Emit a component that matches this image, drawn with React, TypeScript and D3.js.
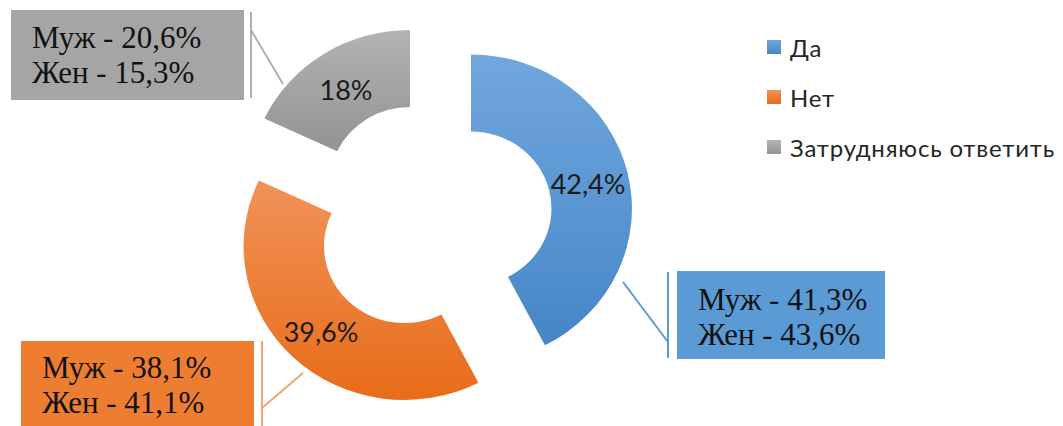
import React from 'react';
import * as d3 from 'd3';

const categories = ['Да', 'Нет', 'Затрудняюсь ответить'];
const values = [42.4, 39.6, 18];
const valueLabels = ['42,4%', '39,6%', '18%'];
const maleLabels = ['Муж - 41,3%', 'Муж - 38,1%', 'Муж - 20,6%'];
const femaleLabels = ['Жен - 43,6%', 'Жен - 41,1%', 'Жен - 15,3%'];

const W = 1063;
const H = 426;
const CX = 430;
const CY = 215;
const R_OUT = 154;
const R_IN = 77;
const XSTRETCH = 1.045;

// layout (per slice): explosion offsets, data label offsets, callout boxes
const sliceOffsets: [number, number][] = [[41, -6.5], [-25.5, 31], [-20, -31]];
const labelPos: [number, number][] = [[588, 183], [321, 331], [346, 89]];
const baseColors = ['#5b9bd5', '#ed7d31', '#a5a5a5'];
const gradTop = ['#71a7dd', '#f19258', '#b3b3b3'];
const gradBottom = ['#4586c7', '#e86c18', '#939393'];
const lineColors = ['#5b9bd5', '#f4a46f', '#b0b0b0'];
const boxes = [
  { x: 677, y: 271, w: 208, h: 88, vx: 668, vy1: 272, vy2: 358, lx1: 623, ly1: 282, lx2: 668, ly2: 342, base: 310 },
  { x: 21, y: 341, w: 233, h: 90, vx: 262, vy1: 341, vy2: 426, lx1: 303, ly1: 373, lx2: 262, ly2: 408, base: 378 },
  { x: 11, y: 10, w: 233, h: 90, vx: 251, vy1: 12, vy2: 98, lx1: 283, ly1: 84, lx2: 251, ly2: 30, base: 48 },
];

export default function App() {
  const pie = d3
    .pie<number>()
    .sort(null)
    .value((d) => d)
    .startAngle(0)
    .endAngle(2 * Math.PI);
  const arcs = pie(values);
  const arcGen = d3.arc<d3.PieArcDatum<number>>().innerRadius(R_IN).outerRadius(R_OUT);

  return (
    <svg
      width={W}
      height={H}
      viewBox={`0 0 ${W} ${H}`}
      style={{ position: 'absolute', left: 0, top: 0, background: '#fff' }}
    >
      <defs>
        {arcs.map((a, i) => (
          <linearGradient key={i} id={`g${i}`} x1="0" y1="0" x2="0" y2="1">
            <stop offset="0" stopColor={gradTop[i]} />
            <stop offset="1" stopColor={gradBottom[i]} />
          </linearGradient>
        ))}
      </defs>
      <rect x={0} y={0} width={W} height={H} fill="#fff" />
      {arcs.map((a, i) => (
        <g
          key={i}
          transform={`translate(${CX + sliceOffsets[i][0]},${CY + sliceOffsets[i][1]}) scale(${XSTRETCH},1)`}
        >
          <path d={arcGen(a) || ''} fill={`url(#g${i})`} />
        </g>
      ))}
      {arcs.map((a, i) => (
        <text
          key={i}
          x={labelPos[i][0]}
          y={labelPos[i][1]}
          textAnchor="middle"
          dominantBaseline="central"
          fontFamily="Lato, 'Noto Sans', sans-serif"
          fontSize={27}
          fill="#1a1a1a"
        >
          {valueLabels[i]}
        </text>
      ))}
      {boxes.map((b, i) => (
        <g key={i}>
          <line x1={b.vx} y1={b.vy1} x2={b.vx} y2={b.vy2} stroke={lineColors[i]} strokeWidth={2} />
          <line x1={b.lx1} y1={b.ly1} x2={b.lx2} y2={b.ly2} stroke={lineColors[i]} strokeWidth={2} />
          <rect x={b.x} y={b.y} width={b.w} height={b.h} fill={baseColors[i]} />
          <text
            x={b.x + 21}
            y={b.base}
            fontFamily="'Liberation Serif', 'Times New Roman', serif"
            fontSize={31}
            fill="#111"
          >
            <tspan x={b.x + 21} y={b.base}>{maleLabels[i]}</tspan>
            <tspan x={b.x + 21} y={b.base + 35}>{femaleLabels[i]}</tspan>
          </text>
        </g>
      ))}
      {categories.map((c, i) => (
        <g key={c} transform={`translate(767,${47 + i * 50})`}>
          <rect x={0} y={-7} width={14} height={14} fill={`url(#g${i})`} />
          <text
            x={23}
            y={0}
            dominantBaseline="central"
            fontFamily="Lato, 'Noto Sans', sans-serif"
            fontSize={24}
            letterSpacing={0.8}
            fill="#262626"
          >
            {c}
          </text>
        </g>
      ))}
    </svg>
  );
}
